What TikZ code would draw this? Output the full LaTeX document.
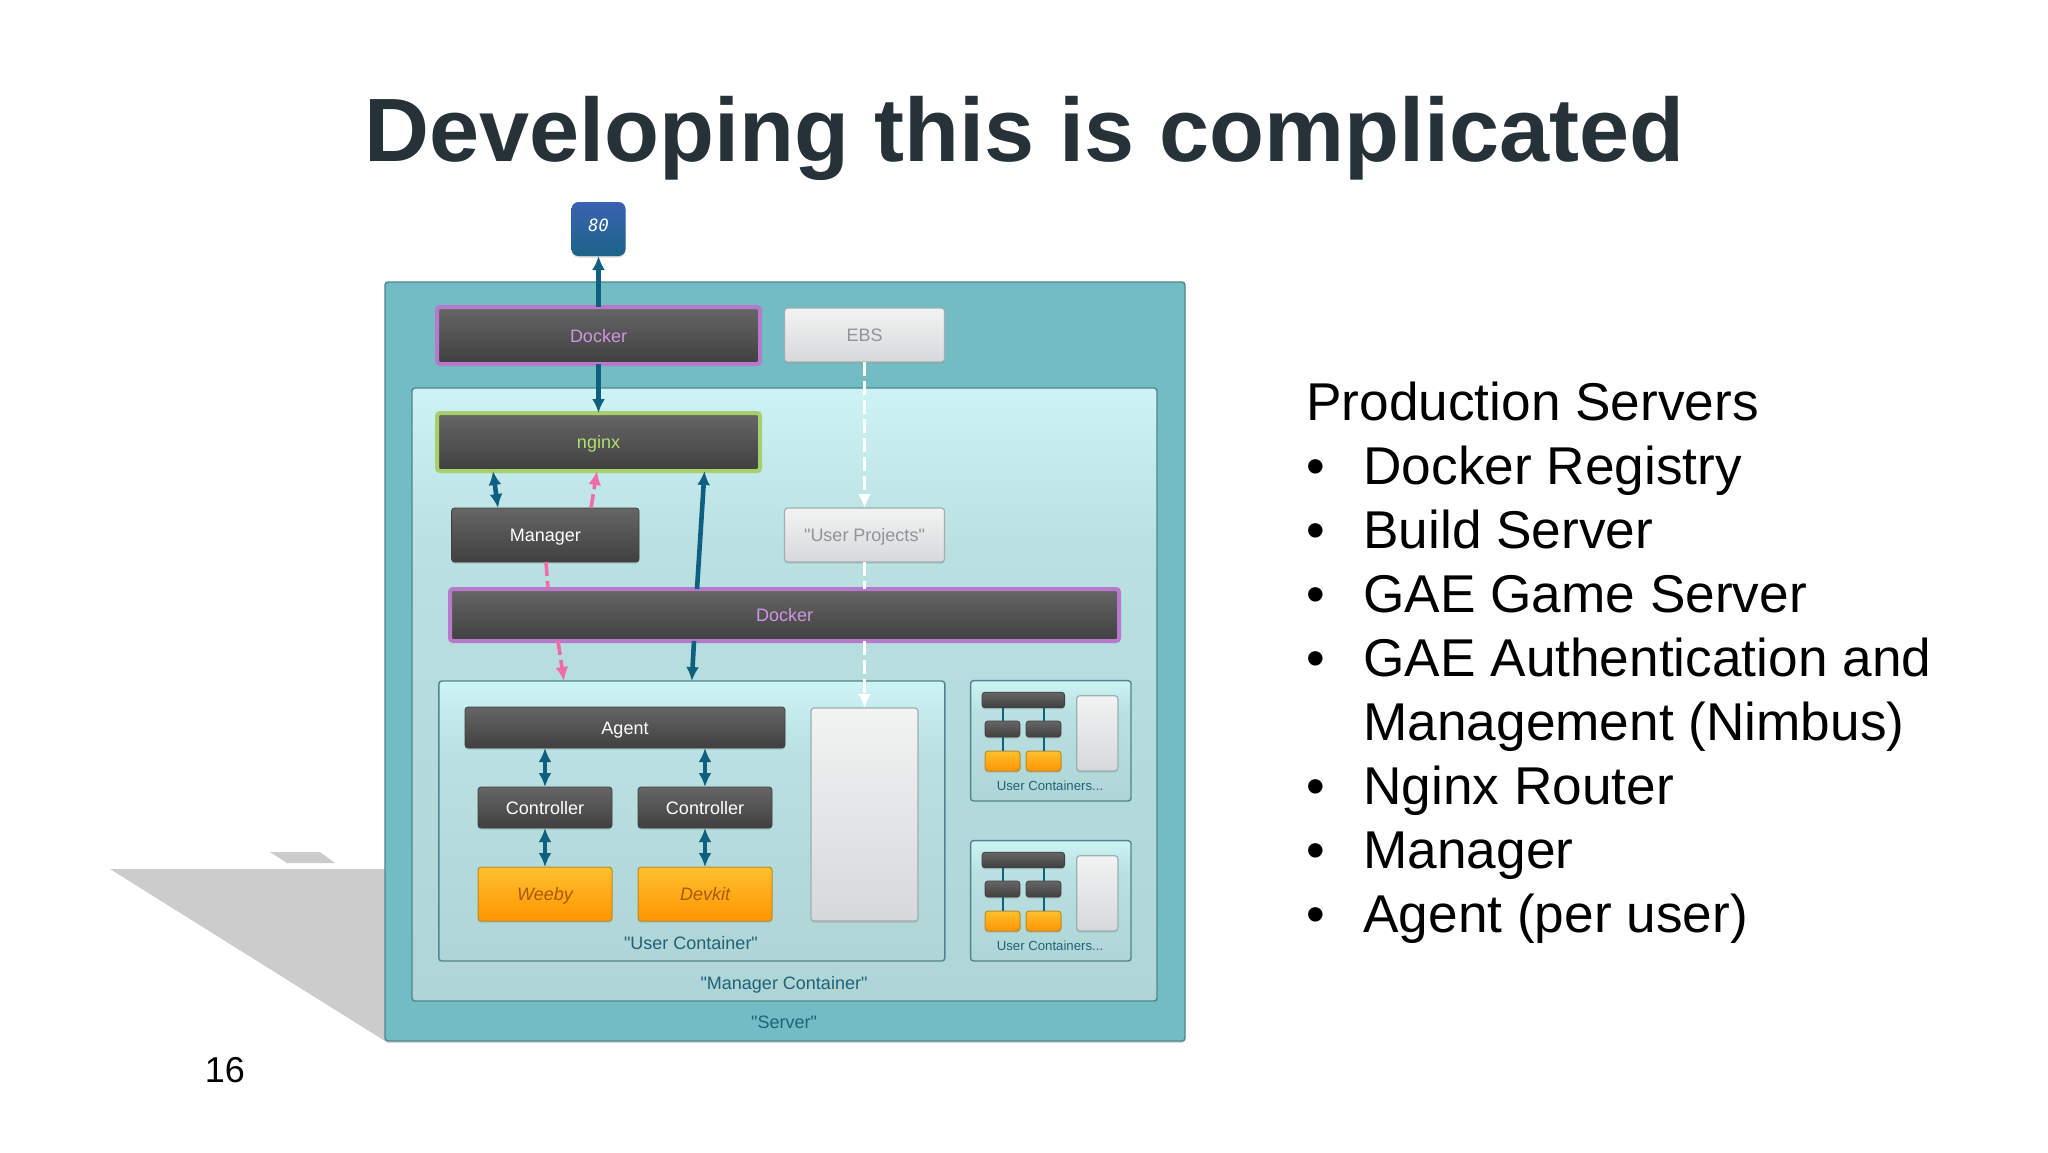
\documentclass[tikz,border=0pt]{standalone}
\usepackage{fontspec}
\setmainfont{Liberation Sans}[Ligatures=TeXOff]
\newfontfamily\portfont{DejaVu Sans Mono}
\usetikzlibrary{arrows.meta,shadows}

\definecolor{paneltop}{HTML}{CDF3F4}
\definecolor{panelmid}{HTML}{B9E1E2}
\definecolor{panelbottom}{HTML}{AFD5D6}
\pgfdeclareverticalshading{panelshade}{100bp}{color(0bp)=(panelbottom); color(25bp)=(panelbottom); color(62bp)=(panelmid); color(75bp)=(paneltop); color(100bp)=(paneltop)}

\tikzset{
  box/.style={shade,rounded corners=1.5pt,inner sep=0pt,outer sep=0pt,align=center,text height=6.5pt,text depth=0pt,
    font=\fontsize{9}{11}\selectfont,drop shadow={opacity=0.3,shadow xshift=0pt,shadow yshift=-0.8pt}},
  darkbox/.style={box,top color=boxtop,bottom color=boxbottom,draw=boxbottom,line width=0.4pt,text=white},
  greybox/.style={box,top color=greytop,bottom color=greybottom,draw=greyedge,line width=0.6pt,text=greytext},
  orangebox/.style={box,top color=orangetop,bottom color=orangebottom,draw=orangeedge,line width=0.5pt,text=orangetext,font=\fontsize{9}{11}\selectfont\itshape},
  dockerbox/.style={darkbox,draw=dockeredge,line width=2pt,text=dockertext},
  nginxbox/.style={darkbox,draw=nginxedge,line width=2pt,text=nginxtext},
  panel/.style={shading=panelshade,rounded corners=1.5pt,inner sep=0pt,outer sep=0pt,draw=paneledge,line width=0.7pt},
  caption/.style={text=captiontext,text height=6.5pt,text depth=0pt,font=\fontsize{9}{11}\selectfont},
  link/.style={draw=linkblue,line width=2.3pt,>={Latex[length=7pt,width=6.5pt]}},
  pinklink/.style={draw=linkpink,line width=1.8pt,dash pattern=on 7pt off 2.5pt,>={Latex[length=7pt,width=6.5pt]}},
  whitelink/.style={draw=white,line width=1.8pt,dash pattern=on 7pt off 2.5pt,>={Latex[length=7pt,width=6.5pt]}},
  minilink/.style={draw=linkblue,line width=1pt},
  listline/.style={anchor=base west,inner sep=0pt,font=\fontsize{26.6}{30}\selectfont}
}

\begin{document}
\begin{tikzpicture}[x=0.5pt,y=-0.5pt]
  \colorlet{boxtop}{black!60}
  \colorlet{boxbottom}{black!75}
  \definecolor{greytop}{HTML}{F2F3F3}
  \definecolor{greybottom}{HTML}{D6D8DA}
  \definecolor{greyedge}{HTML}{9FAEB0}
  \definecolor{greytext}{HTML}{8F9494}
  \definecolor{orangetop}{HTML}{FFC02E}
  \definecolor{orangebottom}{HTML}{FF9500}
  \definecolor{orangeedge}{HTML}{B98A2A}
  \definecolor{orangetext}{HTML}{A85A08}
  \definecolor{dockeredge}{HTML}{B878CC}
  \definecolor{dockertext}{HTML}{CF96E0}
  \definecolor{nginxedge}{HTML}{A6D06A}
  \definecolor{nginxtext}{HTML}{B4E070}
  \definecolor{paneledge}{HTML}{4F858C}
  \definecolor{servertop}{HTML}{72BCC4}
  \definecolor{captiontext}{HTML}{1F6278}
  \definecolor{linkblue}{HTML}{0F5F80}
  \definecolor{linkpink}{HTML}{F06CA8}
  \definecolor{titletext}{HTML}{263238}
  \definecolor{portouter}{HTML}{3A62B2}
  \definecolor{portinner}{HTML}{1C6488}
  \definecolor{floorgrey}{HTML}{CCCCCC}

  \useasboundingbox (0,0) rectangle (2048,1152);
  \fill[white] (0,0) rectangle (2048,1152);

  \node[anchor=base,inner sep=0pt,text=titletext,font=\fontsize{45}{52}\selectfont\bfseries] (title) at (1024.6,161) {Developing this is complicated};

  \fill[floorgrey] (110,869) -- (385,869) -- (385,1041) -- cycle;
  \fill[floorgrey] (270,852) -- (320,852) -- (335,863) -- (287,863) -- cycle;

  \node[shade,top color=servertop,bottom color=servertop,rounded corners=1.5pt,inner sep=0pt,outer sep=0pt,
    draw=paneledge,line width=0.7pt,minimum width=400pt,minimum height=379.5pt,
    drop shadow={opacity=0.3,shadow xshift=0pt,shadow yshift=-1pt}] (server) at (785,661.5) {};
  \node[panel,minimum width=372.5pt,minimum height=306.5pt] (manager container) at (784.5,694.5) {};
  \node[panel,minimum width=253pt,minimum height=140pt] (user container) at (691.8,821) {};

  \node[caption] (server label) at (784,1022) {"Server"};
  \node[caption] (manager label) at (784,983) {"Manager Container"};
  \node[caption] (user label) at (691,943) {"User Container"};

  \node[box,top color=portouter,bottom color=portinner,rounded corners=3.5pt,minimum width=27pt,minimum height=27pt,
    text=white,text depth=4pt,font=\portfont\itshape\fontsize{8.5}{10}\selectfont] (port) at (598.5,229) {80};
  \node[dockerbox,minimum width=161.5pt,minimum height=28.5pt] (docker top) at (598.5,335.5) {Docker};
  \node[greybox,minimum width=80pt,minimum height=27pt] (ebs) at (864.5,335) {EBS};
  \node[nginxbox,minimum width=161.5pt,minimum height=29pt] (nginx) at (598.5,442) {nginx};
  \node[darkbox,minimum width=93.7pt,minimum height=27pt] (manager) at (545.3,535) {Manager};
  \node[greybox,minimum width=80pt,minimum height=27pt] (projects) at (864.5,535) {"User Projects"};
  \node[dockerbox,minimum width=334.5pt,minimum height=26pt] (docker wide) at (784.5,615) {Docker};

  \node[darkbox,minimum width=160pt,minimum height=20.5pt] (agent) at (625,727.5) {Agent};
  \node[darkbox,minimum width=67pt,minimum height=20.5pt] (controller one) at (545,807.5) {Controller};
  \node[darkbox,minimum width=67pt,minimum height=20.5pt] (controller two) at (705,807.5) {Controller};
  \node[orangebox,minimum width=67pt,minimum height=27pt] (weeby) at (545,894) {Weeby};
  \node[orangebox,minimum width=67pt,minimum height=27pt] (devkit) at (705,894) {Devkit};
  \node[greybox,minimum width=53.5pt,minimum height=106.5pt] (volume) at (864.5,814.5) {};

  \draw[link,->] (docker top.north) -- (port.south);
  \draw[link,->] (docker top.south) -- (nginx.north);
  \draw[link,<->] ([xshift=-52.75pt]nginx.south) -- ([xshift=-23.65pt]manager.north);
  \draw[pinklink,->] ([xshift=22.85pt]manager.north) -- ([xshift=-0.75pt]nginx.south);
  \draw[link,->] ([xshift=-43.75pt]docker wide.north) -- ([xshift=53pt]nginx.south);
  \draw[pinklink] ([xshift=0.35pt]manager.south) -- ([xshift=-118.25pt]docker wide.north);
  \draw[pinklink,->] ([xshift=-113.25pt]docker wide.south) -- ([xshift=-63.9pt]user container.north);
  \draw[link,->] ([xshift=-45.25pt]docker wide.south) -- (user container.north);
  \draw[whitelink,->] (ebs.south) -- (projects.north);
  \draw[whitelink] (projects.south) -- ([xshift=40pt]docker wide.north);
  \draw[whitelink,->] ([xshift=40pt]docker wide.south) -- (volume.north);
  \draw[link,<->] ([xshift=-40pt]agent.south) -- (controller one.north);
  \draw[link,<->] ([xshift=40pt]agent.south) -- (controller two.north);
  \draw[link,<->] (controller one.south) -- (weeby.north);
  \draw[link,<->] (controller two.south) -- (devkit.north);

  \foreach \name/\shifty in {a/0,b/160}
  {
    \begin{scope}[shift={(0,\shifty)}]
      \node[panel,minimum width=80.2pt,minimum height=60.2pt] (mini \name) at (1050.8,740.8) {};
      \node[darkbox,minimum width=41.3pt,minimum height=7.8pt] (mini bar \name) at (1023.3,700) {};
      \node[darkbox,minimum width=17.5pt,minimum height=8pt] (mini left \name) at (1002.5,729) {};
      \node[darkbox,minimum width=17.5pt,minimum height=8pt] (mini right \name) at (1043.5,729) {};
      \node[orangebox,minimum width=17.5pt,minimum height=10pt] (mini app left \name) at (1002.5,761) {};
      \node[orangebox,minimum width=17.5pt,minimum height=10pt] (mini app right \name) at (1043.5,761) {};
      \node[greybox,minimum width=20.6pt,minimum height=37.6pt] (mini volume \name) at (1097.3,733.3) {};
      \node[text=captiontext,font=\fontsize{6.6}{8}\selectfont] (mini label \name) at (1050,786) {User Containers...};
      \draw[minilink] (mini left \name.north) -- (mini left \name.north |- mini bar \name.south);
      \draw[minilink] (mini right \name.north) -- (mini right \name.north |- mini bar \name.south);
      \draw[minilink] (mini left \name.south) -- (mini app left \name.north);
      \draw[minilink] (mini right \name.south) -- (mini app right \name.north);
    \end{scope}
  }

  \node[listline] (heading) at (1306,420) {Production Servers};
  \foreach \i/\row/\txt in {1/1/Docker Registry,2/2/Build Server,3/3/GAE Game Server,4/4/GAE Authentication and,6/6/Nginx Router,7/7/Manager,8/8/Agent (per user)}
  {
    \node[listline] (bullet \i) at (1306,420+64*\row) {•};
    \node[listline] (item \i) at (1363,420+64*\row) {\txt};
  }
  \node[listline] (item 5) at (1363,740) {Management (Nimbus)};

  \node[inner sep=0pt,font=\fontsize{18}{22}\selectfont] (page) at (225,1070) {16};
\end{tikzpicture}
\end{document}
